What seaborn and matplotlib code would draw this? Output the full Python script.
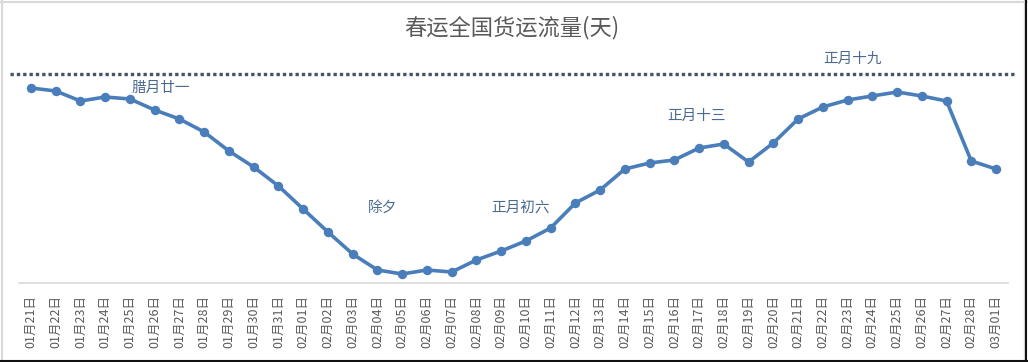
import matplotlib.pyplot as plt
import pandas as pd
import seaborn as sns
from matplotlib.lines import Line2D


# ------------------------------------------------------
# Datos (unidades relativas)
# ------------------------------------------------------
dates = [
    "01月21日", "01月22日", "01月23日", "01月24日", "01月25日", "01月26日",
    "01月27日", "01月28日", "01月29日", "01月30日", "01月31日", "02月01日",
    "02月02日", "02月03日", "02月04日", "02月05日", "02月06日", "02月07日",
    "02月08日", "02月09日", "02月10日", "02月11日", "02月12日", "02月13日",
    "02月14日", "02月15日", "02月16日", "02月17日", "02月18日", "02月19日",
    "02月20日", "02月21日", "02月22日", "02月23日", "02月24日", "02月25日",
    "02月26日", "02月27日", "02月28日", "03月01日",
]
flow = [
    195, 192, 182, 186, 184, 173, 164, 151, 132, 116,
    97, 74, 51, 29, 13, 9, 13, 11, 23, 32,
    42, 55, 80, 93, 114, 120, 123, 135, 139, 121,
    140, 164, 176, 183, 187, 191, 187, 182, 122, 114,
]
ref_level = 209

notes = ["腊月廿一", "除夕", "正月初六", "正月十三", "正月十九"]
note_x = [5.25, 14.2, 19.8, 26.9, 33.2]
note_y = [195, 75, 75, 167, 224]


def main():
    sns.set_theme(style="white")
    plt.rcParams["font.family"] = ["Noto Sans CJK SC", "DejaVu Sans"]

    df = pd.DataFrame({"date": dates, "flow": flow})
    df["idx"] = range(len(df))

    W, H = 1028, 362
    fig = plt.figure(figsize=(W / 100, H / 100), dpi=100)
    ax = fig.add_axes([18.6 / W, (H - 283) / H, (1008.4 - 18.6) / W, 243 / H])

    sns.lineplot(
        data=df, x="idx", y="flow", ax=ax,
        color="#4a7ebb", linewidth=2.6,
        marker="o", markersize=6.8, markeredgewidth=0,
    )

    # línea punteada de referencia
    ax.hlines(ref_level, -0.85, 39.85, colors="#44546a", linewidth=2.4,
              linestyles=(0, (1.0, 0.9)), clip_on=False)

    for t, x, y in zip(notes, note_x, note_y):
        ax.text(x, y, t, ha="center", va="center", fontsize=10.5, color="#4a6a90")

    ax.set_xlim(-0.5, len(dates) - 0.5)
    ax.set_ylim(0, 243)
    ax.set_xticks(df["idx"])
    ax.set_xticklabels(dates, rotation=90, fontsize=9, color="#595959")
    ax.tick_params(axis="x", length=0, pad=9)
    ax.set_yticks([])
    ax.set_xlabel("")
    ax.set_ylabel("")
    for s in ["left", "right", "top"]:
        ax.spines[s].set_visible(False)
    ax.spines["bottom"].set_color("#d9d9d9")
    ax.spines["bottom"].set_linewidth(1.2)

    fig.text(512 / W, 1 - 28 / H, "春运全国货运流量(天)", ha="center", va="center",
             fontsize=16, color="#595959")

    # marco del gráfico
    fig.add_artist(Line2D([1.5 / W, 1.5 / W], [0, 1], color="#d9d9d9", lw=1.5))
    fig.add_artist(Line2D([0, 1], [1 - 1.5 / H, 1 - 1.5 / H], color="#d9d9d9", lw=1.5))
    fig.add_artist(Line2D([1023.5 / W, 1023.5 / W], [0, 1], color="#d9d9d9", lw=1.0))
    fig.add_artist(Line2D([1026 / W, 1026 / W], [0, 1], color="#111111", lw=1.5))
    fig.add_artist(Line2D([0, 1], [1.5 / H, 1.5 / H], color="#111111", lw=1.5))

    fig.savefig("out.png", dpi=100)
    plt.close(fig)


if __name__ == "__main__":
    main()
